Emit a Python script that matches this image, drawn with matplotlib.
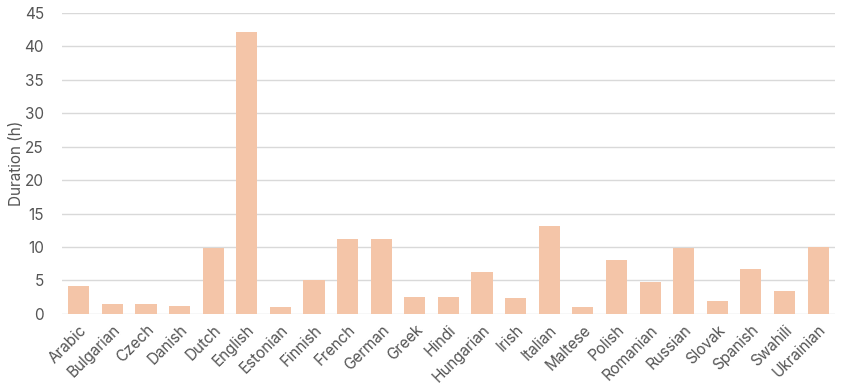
import matplotlib.pyplot as plt

languages = ["Arabic", "Bulgarian", "Czech", "Danish", "Dutch", "English", "Estonian",
             "Finnish", "French", "German", "Greek", "Hindi", "Hungarian", "Irish",
             "Italian", "Maltese", "Polish", "Romanian", "Russian", "Slovak",
             "Spanish", "Swahili", "Ukrainian"]
hours = [4.2, 1.55, 1.45, 1.25, 9.9, 42.2, 1.1, 5.0, 11.2, 11.2, 2.5, 2.5, 6.3,
         2.4, 13.1, 1.1, 8.1, 4.8, 9.8, 1.9, 6.7, 3.4, 10.0]
yticks = [0, 5, 10, 15, 20, 25, 30, 35, 40, 45]

plt.rcParams['font.family'] = ['Inter', 'DejaVu Sans']
text_col = "#555555"

fig = plt.figure(figsize=(8.42, 3.89), dpi=100, facecolor='white')
ax = fig.add_axes([0.0736, 0.193, 0.918, 0.774])

ax.bar(range(len(languages)), hours, width=0.63, color="#F4C5A8", zorder=3)

ax.set_xlim(-0.5, len(languages) - 0.5)
ax.set_ylim(0, 45)
ax.set_yticks(yticks)
ax.set_xticks(range(len(languages)))
ax.set_xticklabels(languages, rotation=45, ha='right', rotation_mode='anchor')
ax.grid(axis='y', color="#d9d9d9", linewidth=1, zorder=0)
for s in ax.spines.values():
    s.set_visible(False)
ax.tick_params(axis='both', length=0, labelsize=11, labelcolor=text_col)
ax.tick_params(axis='y', pad=13)
ax.tick_params(axis='x', pad=6)
ax.set_ylabel("Duration (h)", fontsize=11, color=text_col, labelpad=0)

fig.savefig("out.png", dpi=100)
